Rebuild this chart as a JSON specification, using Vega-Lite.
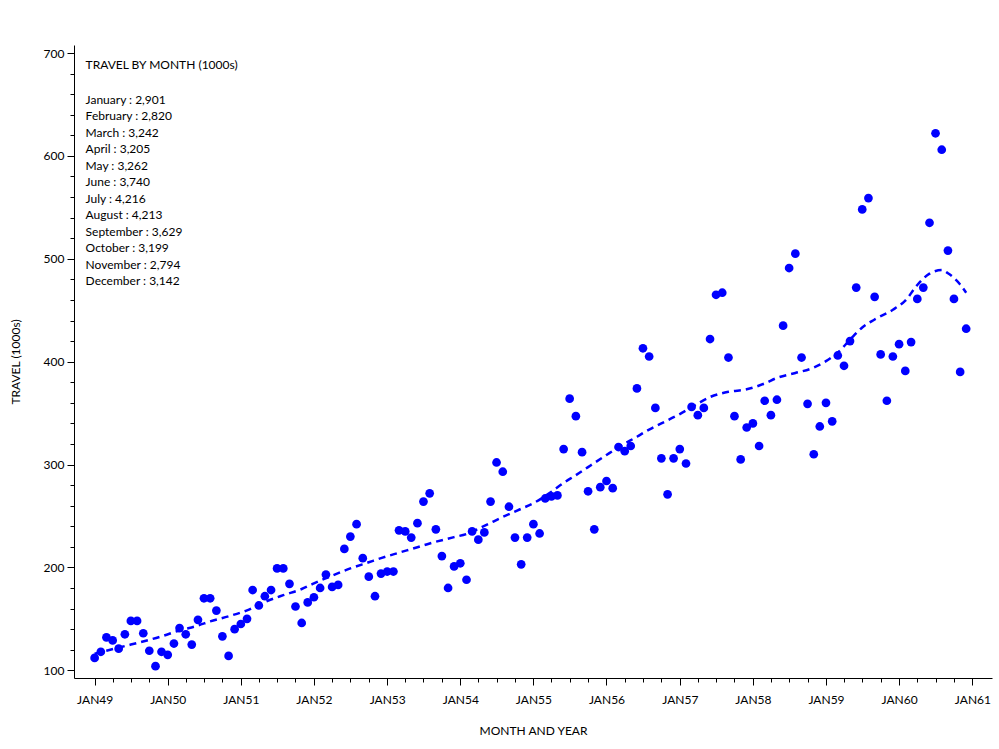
{
  "$schema": "https://vega.github.io/schema/vega-lite/v6.json",
  "width": 918,
  "height": 633,
  "autosize": "none",
  "padding": {"left": 74, "top": 45, "right": 7, "bottom": 71},
  "background": "white",
  "config": {
    "view": {"stroke": null},
    "font": "Lato",
    "axis": {
      "domainColor": "black",
      "tickColor": "black",
      "labelColor": "black",
      "titleColor": "black",
      "labelFont": "Lato",
      "titleFont": "Lato",
      "labelFontSize": 12,
      "titleFontSize": 12,
      "titleFontWeight": "normal",
      "grid": false
    },
    "axisX": {
      "title": "MONTH AND YEAR",
      "tickCount": {"interval": "month", "step": 3},
      "labelExpr": "utcmonth(datum.value) === 0 ? upper(utcFormat(datum.value, '%b%y')) : ''",
      "labelOverlap": false,
      "labelFlush": false,
      "labelBound": false,
      "tickSize": {"condition": {"test": "utcmonth(datum.value) === 0", "value": 7}, "value": 4},
      "tickOpacity": {"condition": {"test": "datum.value < utc(1949,0,1) || datum.value > utc(1961,0,1)", "value": 0}, "value": 1},
      "labelPadding": 9,
      "titlePadding": 20
    },
    "axisY": {
      "labelExpr": "datum.value % 100 === 0 ? datum.label : ''",
      "labelOverlap": false,
      "tickSize": {"condition": {"test": "datum.value % 100 === 0", "value": 7}, "value": 4},
      "labelPadding": 3,
      "titlePadding": 21
    }
  },
  "datasets": {
    "travel": [
      {"date": "1949-01-01", "value": 112}, {"date": "1949-02-01", "value": 118}, {"date": "1949-03-01", "value": 132}, {"date": "1949-04-01", "value": 129}, {"date": "1949-05-01", "value": 121}, {"date": "1949-06-01", "value": 135}, {"date": "1949-07-01", "value": 148}, {"date": "1949-08-01", "value": 148}, {"date": "1949-09-01", "value": 136}, {"date": "1949-10-01", "value": 119}, {"date": "1949-11-01", "value": 104}, {"date": "1949-12-01", "value": 118},
      {"date": "1950-01-01", "value": 115}, {"date": "1950-02-01", "value": 126}, {"date": "1950-03-01", "value": 141}, {"date": "1950-04-01", "value": 135}, {"date": "1950-05-01", "value": 125}, {"date": "1950-06-01", "value": 149}, {"date": "1950-07-01", "value": 170}, {"date": "1950-08-01", "value": 170}, {"date": "1950-09-01", "value": 158}, {"date": "1950-10-01", "value": 133}, {"date": "1950-11-01", "value": 114}, {"date": "1950-12-01", "value": 140},
      {"date": "1951-01-01", "value": 145}, {"date": "1951-02-01", "value": 150}, {"date": "1951-03-01", "value": 178}, {"date": "1951-04-01", "value": 163}, {"date": "1951-05-01", "value": 172}, {"date": "1951-06-01", "value": 178}, {"date": "1951-07-01", "value": 199}, {"date": "1951-08-01", "value": 199}, {"date": "1951-09-01", "value": 184}, {"date": "1951-10-01", "value": 162}, {"date": "1951-11-01", "value": 146}, {"date": "1951-12-01", "value": 166},
      {"date": "1952-01-01", "value": 171}, {"date": "1952-02-01", "value": 180}, {"date": "1952-03-01", "value": 193}, {"date": "1952-04-01", "value": 181}, {"date": "1952-05-01", "value": 183}, {"date": "1952-06-01", "value": 218}, {"date": "1952-07-01", "value": 230}, {"date": "1952-08-01", "value": 242}, {"date": "1952-09-01", "value": 209}, {"date": "1952-10-01", "value": 191}, {"date": "1952-11-01", "value": 172}, {"date": "1952-12-01", "value": 194},
      {"date": "1953-01-01", "value": 196}, {"date": "1953-02-01", "value": 196}, {"date": "1953-03-01", "value": 236}, {"date": "1953-04-01", "value": 235}, {"date": "1953-05-01", "value": 229}, {"date": "1953-06-01", "value": 243}, {"date": "1953-07-01", "value": 264}, {"date": "1953-08-01", "value": 272}, {"date": "1953-09-01", "value": 237}, {"date": "1953-10-01", "value": 211}, {"date": "1953-11-01", "value": 180}, {"date": "1953-12-01", "value": 201},
      {"date": "1954-01-01", "value": 204}, {"date": "1954-02-01", "value": 188}, {"date": "1954-03-01", "value": 235}, {"date": "1954-04-01", "value": 227}, {"date": "1954-05-01", "value": 234}, {"date": "1954-06-01", "value": 264}, {"date": "1954-07-01", "value": 302}, {"date": "1954-08-01", "value": 293}, {"date": "1954-09-01", "value": 259}, {"date": "1954-10-01", "value": 229}, {"date": "1954-11-01", "value": 203}, {"date": "1954-12-01", "value": 229},
      {"date": "1955-01-01", "value": 242}, {"date": "1955-02-01", "value": 233}, {"date": "1955-03-01", "value": 267}, {"date": "1955-04-01", "value": 269}, {"date": "1955-05-01", "value": 270}, {"date": "1955-06-01", "value": 315}, {"date": "1955-07-01", "value": 364}, {"date": "1955-08-01", "value": 347}, {"date": "1955-09-01", "value": 312}, {"date": "1955-10-01", "value": 274}, {"date": "1955-11-01", "value": 237}, {"date": "1955-12-01", "value": 278},
      {"date": "1956-01-01", "value": 284}, {"date": "1956-02-01", "value": 277}, {"date": "1956-03-01", "value": 317}, {"date": "1956-04-01", "value": 313}, {"date": "1956-05-01", "value": 318}, {"date": "1956-06-01", "value": 374}, {"date": "1956-07-01", "value": 413}, {"date": "1956-08-01", "value": 405}, {"date": "1956-09-01", "value": 355}, {"date": "1956-10-01", "value": 306}, {"date": "1956-11-01", "value": 271}, {"date": "1956-12-01", "value": 306},
      {"date": "1957-01-01", "value": 315}, {"date": "1957-02-01", "value": 301}, {"date": "1957-03-01", "value": 356}, {"date": "1957-04-01", "value": 348}, {"date": "1957-05-01", "value": 355}, {"date": "1957-06-01", "value": 422}, {"date": "1957-07-01", "value": 465}, {"date": "1957-08-01", "value": 467}, {"date": "1957-09-01", "value": 404}, {"date": "1957-10-01", "value": 347}, {"date": "1957-11-01", "value": 305}, {"date": "1957-12-01", "value": 336},
      {"date": "1958-01-01", "value": 340}, {"date": "1958-02-01", "value": 318}, {"date": "1958-03-01", "value": 362}, {"date": "1958-04-01", "value": 348}, {"date": "1958-05-01", "value": 363}, {"date": "1958-06-01", "value": 435}, {"date": "1958-07-01", "value": 491}, {"date": "1958-08-01", "value": 505}, {"date": "1958-09-01", "value": 404}, {"date": "1958-10-01", "value": 359}, {"date": "1958-11-01", "value": 310}, {"date": "1958-12-01", "value": 337},
      {"date": "1959-01-01", "value": 360}, {"date": "1959-02-01", "value": 342}, {"date": "1959-03-01", "value": 406}, {"date": "1959-04-01", "value": 396}, {"date": "1959-05-01", "value": 420}, {"date": "1959-06-01", "value": 472}, {"date": "1959-07-01", "value": 548}, {"date": "1959-08-01", "value": 559}, {"date": "1959-09-01", "value": 463}, {"date": "1959-10-01", "value": 407}, {"date": "1959-11-01", "value": 362}, {"date": "1959-12-01", "value": 405},
      {"date": "1960-01-01", "value": 417}, {"date": "1960-02-01", "value": 391}, {"date": "1960-03-01", "value": 419}, {"date": "1960-04-01", "value": 461}, {"date": "1960-05-01", "value": 472}, {"date": "1960-06-01", "value": 535}, {"date": "1960-07-01", "value": 622}, {"date": "1960-08-01", "value": 606}, {"date": "1960-09-01", "value": 508}, {"date": "1960-10-01", "value": 461}, {"date": "1960-11-01", "value": 390}, {"date": "1960-12-01", "value": 432}
    ],
    "trend": [
      {"date": "1949-01-01", "value": 116}, {"date": "1949-03-01", "value": 119}, {"date": "1949-07-01", "value": 125}, {"date": "1949-12-01", "value": 133},
      {"date": "1950-03-01", "value": 138.7}, {"date": "1950-06-01", "value": 143.5}, {"date": "1950-08-01", "value": 147.5}, {"date": "1950-11-01", "value": 152.5},
      {"date": "1951-02-01", "value": 158.3}, {"date": "1951-05-01", "value": 166.4}, {"date": "1951-08-01", "value": 173}, {"date": "1951-11-01", "value": 179},
      {"date": "1952-01-01", "value": 184.5}, {"date": "1952-04-01", "value": 192}, {"date": "1952-07-01", "value": 199}, {"date": "1952-10-01", "value": 205}, {"date": "1952-12-01", "value": 209},
      {"date": "1953-03-01", "value": 214.3}, {"date": "1953-06-01", "value": 219.6}, {"date": "1953-08-01", "value": 223.3}, {"date": "1953-12-01", "value": 229.4},
      {"date": "1954-02-01", "value": 232.5}, {"date": "1954-05-01", "value": 240.3}, {"date": "1954-08-01", "value": 249}, {"date": "1954-11-01", "value": 257},
      {"date": "1955-01-01", "value": 262.4}, {"date": "1955-04-01", "value": 273.5}, {"date": "1955-06-01", "value": 282.2}, {"date": "1955-08-01", "value": 289.6}, {"date": "1955-10-01", "value": 297.5},
      {"date": "1956-01-01", "value": 309.3}, {"date": "1956-03-01", "value": 316.8}, {"date": "1956-06-01", "value": 327}, {"date": "1956-08-01", "value": 334}, {"date": "1956-10-01", "value": 340},
      {"date": "1957-01-01", "value": 349}, {"date": "1957-03-01", "value": 355.6}, {"date": "1957-06-01", "value": 365.6}, {"date": "1957-09-01", "value": 370.7}, {"date": "1957-12-01", "value": 373.1},
      {"date": "1958-03-01", "value": 378.8}, {"date": "1958-05-01", "value": 384.2}, {"date": "1958-08-01", "value": 389}, {"date": "1958-11-01", "value": 394.2},
      {"date": "1959-01-01", "value": 400.5}, {"date": "1959-03-01", "value": 408.8}, {"date": "1959-05-01", "value": 421.3}, {"date": "1959-07-01", "value": 433.2}, {"date": "1959-09-01", "value": 441}, {"date": "1959-12-01", "value": 450.5},
      {"date": "1960-02-01", "value": 459.4}, {"date": "1960-04-01", "value": 474.5}, {"date": "1960-06-01", "value": 485.5}, {"date": "1960-08-01", "value": 489}, {"date": "1960-09-01", "value": 486}, {"date": "1960-11-01", "value": 475}, {"date": "1960-12-01", "value": 467}
    ],
    "heading": [
      {"label": "TRAVEL BY MONTH (1000s)"}
    ],
    "summary": [
      {"label": ["January : 2,901", "February : 2,820", "March : 3,242", "April : 3,205", "May : 3,262", "June : 3,740", "July : 4,216", "August : 4,213", "September : 3,629", "October : 3,199", "November : 2,794", "December : 3,142"]}
    ]
  },
  "layer": [
    {
      "data": {"name": "travel"},
      "mark": {"type": "circle", "size": 76, "color": "#0000FF", "opacity": 1},
      "encoding": {
        "x": {
          "field": "date",
          "type": "temporal",
          "title": "MONTH AND YEAR",
          "scale": {
            "type": "utc",
            "domain": [
              {"year": 1948, "month": "sep", "date": 20, "utc": true},
              {"year": 1961, "month": "apr", "date": 9, "utc": true}
            ],
            "nice": false
          }
        },
        "y": {
          "field": "value",
          "type": "quantitative",
          "title": "TRAVEL (1000s)",
          "scale": {"domain": [92.5, 707.8], "nice": false, "zero": false},
          "axis": {"values": [100, 120, 140, 160, 180, 200, 220, 240, 260, 280, 300, 320, 340, 360, 380, 400, 420, 440, 460, 480, 500, 520, 540, 560, 580, 600, 620, 640, 660, 680, 700]}
        }
      }
    },
    {
      "data": {"name": "trend"},
      "mark": {"type": "line", "color": "#0000FF", "strokeWidth": 2.5, "strokeDash": [7, 5], "interpolate": "monotone"},
      "encoding": {
        "x": {"field": "date", "type": "temporal", "title": "MONTH AND YEAR"},
        "y": {"field": "value", "type": "quantitative", "title": "TRAVEL (1000s)", "axis": {"values": [100, 120, 140, 160, 180, 200, 220, 240, 260, 280, 300, 320, 340, 360, 380, 400, 420, 440, 460, 480, 500, 520, 540, 560, 580, 600, 620, 640, 660, 680, 700]}}
      }
    },
    {
      "data": {"name": "heading"},
      "mark": {"type": "text", "align": "left", "baseline": "alphabetic", "fontSize": 12, "color": "black", "font": "Lato"},
      "encoding": {
        "x": {"datum": {"year": 1948, "month": 11, "date": 17, "utc": true}, "type": "temporal", "title": "MONTH AND YEAR"},
        "y": {"datum": 684.4, "type": "quantitative", "title": "TRAVEL (1000s)", "axis": {"values": [100, 120, 140, 160, 180, 200, 220, 240, 260, 280, 300, 320, 340, 360, 380, 400, 420, 440, 460, 480, 500, 520, 540, 560, 580, 600, 620, 640, 660, 680, 700]}},
        "text": {"field": "label", "type": "nominal"}
      }
    },
    {
      "data": {"name": "summary"},
      "mark": {"type": "text", "align": "left", "baseline": "alphabetic", "fontSize": 12, "color": "black", "font": "Lato", "lineHeight": 16.45},
      "encoding": {
        "x": {"datum": {"year": 1948, "month": 11, "date": 17, "utc": true}, "type": "temporal", "title": "MONTH AND YEAR"},
        "y": {"datum": 650.4, "type": "quantitative", "title": "TRAVEL (1000s)", "axis": {"values": [100, 120, 140, 160, 180, 200, 220, 240, 260, 280, 300, 320, 340, 360, 380, 400, 420, 440, 460, 480, 500, 520, 540, 560, 580, 600, 620, 640, 660, 680, 700]}},
        "text": {"field": "label", "type": "nominal"}
      }
    }
  ]
}
